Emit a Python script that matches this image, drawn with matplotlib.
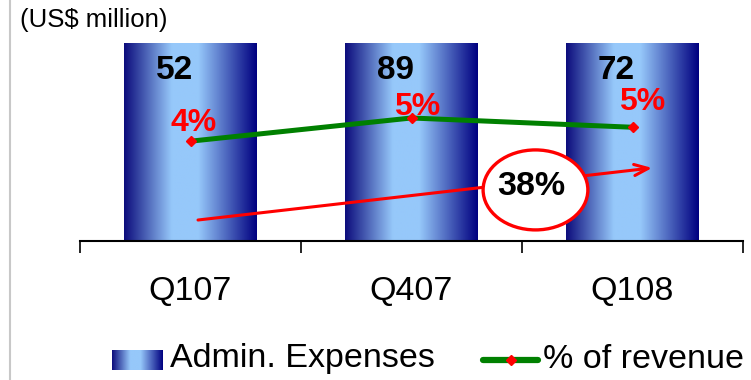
import numpy as np
import matplotlib
matplotlib.use("Agg")
import matplotlib.pyplot as plt
from matplotlib.colors import LinearSegmentedColormap
from matplotlib.patches import Ellipse
from matplotlib.lines import Line2D
from matplotlib.transforms import blended_transform_factory

plt.rcParams["font.family"] = ["Liberation Sans", "DejaVu Sans"]

# data
quarters = ["Q107", "Q407", "Q108"]
admin_expenses = [52, 89, 72]          # US$ million
pct_revenue = [4.3, 5.3, 4.9]          # % of revenue
pct_labels = ["4%", "5%", "5%"]
growth_label = "38%"

# gradient used for the bars (dark edges, light centre)
grad = LinearSegmentedColormap.from_list(
    "bar_grad",
    [(0.0, "#0c0c7c"), (0.36, "#96c8fa"), (0.56, "#96c8fa"), (1.0, "#000080")],
)
grad_img = np.linspace(0, 1, 256).reshape(1, -1)

fig = plt.figure(figsize=(7.51, 3.80), dpi=100)
fig.patch.set_facecolor("white")
ax = fig.add_axes([80 / 751, 139 / 380, 663 / 751, 198 / 380])

x = np.arange(len(quarters))
bar_w = 0.6
bars = ax.bar(x, admin_expenses, width=bar_w, color="none", edgecolor="none")
for b in bars:
    x0, w, h = b.get_x(), b.get_width(), b.get_height()
    ax.imshow(grad_img, cmap=grad, aspect="auto", extent=(x0, x0 + w, 0, h),
              interpolation="bilinear", zorder=1)

ax.set_xlim(-0.5, 2.5)
ax.set_ylim(0, 50)

# axis styling
for s in ["top", "right", "left"]:
    ax.spines[s].set_visible(False)
ax.spines["bottom"].set_linewidth(1.5)
ax.set_yticks([])
ax.set_xticks([-0.5, 0.5, 1.5, 2.5])
ax.set_xticklabels([])
ax.tick_params(axis="x", which="major", direction="out", length=8.5, width=1.2)
ax.set_xticks(x, minor=True)
ax.set_xticklabels(quarters, minor=True, fontsize=24.5)
ax.tick_params(axis="x", which="minor", length=0, pad=25)

# value labels inside bars
tr = blended_transform_factory(ax.transData, ax.transAxes)
for i, v in enumerate(admin_expenses):
    ax.annotate(str(v), xy=(x[i], 0.86), xycoords=tr, xytext=(-11.5, 0),
                textcoords="offset points", ha="center", va="center",
                fontsize=24, fontweight="bold", color="black", zorder=5)

# % of revenue line on secondary axis
ax2 = ax.twinx()
ax2.set_ylim(0, 8.53)
ax2.axis("off")
ax2.plot(x, pct_revenue, color="#008000", lw=3.6, marker="D", markersize=5,
         markerfacecolor="red", markeredgecolor="red", zorder=3)
label_offsets = [(2, 13), (4, 8), (7, 18)]
for i, (v, lab) in enumerate(zip(pct_revenue, pct_labels)):
    ax2.annotate(lab, xy=(x[i], v), xytext=label_offsets[i],
                 textcoords="offset points", ha="center", va="center",
                 fontsize=23, fontweight="bold", color="red", zorder=5)

# growth arrow with circled label
ax2.annotate("", xy=(0.863, 0.369), xytext=(0.178, 0.106),
             xycoords=ax2.transAxes, textcoords=ax2.transAxes,
             arrowprops=dict(arrowstyle="->,head_length=1.0,head_width=0.4",
                             color="red", lw=2.2, shrinkA=0, shrinkB=0),
             zorder=6)
ell = Ellipse((0.687, 0.258), 0.158, 0.404, transform=ax2.transAxes,
              facecolor="white", edgecolor="red", lw=2.4, zorder=7)
ax2.add_patch(ell)
ax2.text(0.681, 0.275, growth_label, transform=ax2.transAxes, ha="center",
         va="center", fontsize=24.5, fontweight="bold", color="black", zorder=8)

# unit label
fig.text(20 / 751, 1 - 20 / 380, "(US$ million)", ha="left", va="center",
         fontsize=18.5, color="black")

# left gray border
fig.add_artist(Line2D([9.5 / 751, 9.5 / 751], [0, 1], color="#c8c8c8", lw=1.5))

# legend (drawn by hand so the bar swatch keeps its gradient)
lax = fig.add_axes([112 / 751, 10 / 380, 51 / 751, 20 / 380])
lax.imshow(grad_img, cmap=grad, aspect="auto", interpolation="bilinear")
lax.axis("off")
fig.text(170 / 751, 21 / 380, "Admin. Expenses", ha="left", va="center",
         fontsize=24.5, color="black")
fig.add_artist(Line2D([483 / 751, 538 / 751], [20 / 380, 20 / 380],
                      color="#008000", lw=4.5, solid_capstyle="round"))
fig.add_artist(Line2D([510.5 / 751], [20 / 380], marker="D", markersize=5,
                      color="red", lw=0))
fig.text(543 / 751, 21 / 380, "% of revenue", ha="left", va="center",
         fontsize=24.5, color="black")

fig.savefig("out.png", dpi=100, facecolor="white")
